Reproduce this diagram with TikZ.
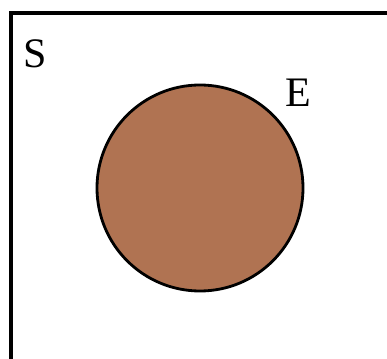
\documentclass[tikz,border=0pt]{standalone}
\usepackage{fontspec}
\newfontfamily\setfont{Liberation Serif}
\definecolor{eventbrown}{HTML}{B07352}
\tikzset{setlabel/.style={font=\setfont\fontsize{42}{42}\selectfont}}
\begin{document}
\begin{tikzpicture}[line cap=butt,line join=miter,x=1pt,y=1pt]
			\useasboundingbox (0,0) rectangle (387,358);
			\clip (0,0) rectangle (387,358);
			\draw[line width=4] (11,-10) |- (400,345);
			\filldraw[line width=2.8, color=black, fill=eventbrown] (200,170) circle(103);
			\node[setlabel] (S) at (35,304) {S};
			\node[setlabel] (E) at (298,265) {E};
\end{tikzpicture}
\end{document}
